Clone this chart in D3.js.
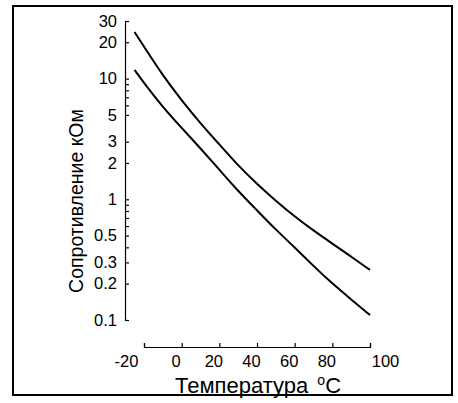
<!DOCTYPE html>
<html>
<head>
<meta charset="utf-8">
<script src="https://cdn.jsdelivr.net/npm/d3@7"></script>
<style>
  body { margin: 0; background: #fff; }
  svg { display: block; }
  .curve { fill: none; stroke: #000; stroke-width: 2; }
  .axis path, .axis line { stroke: #000; stroke-width: 1.2; }
</style>
</head>
<body>
<div class="container"></div>
<script>
var width = 458;
var height = 403;

// temperature, degC
var temps = [-25, -20, -10, 0, 10, 20, 30, 40, 50, 60, 70, 80, 90, 100];
// resistance, kOhm
var upperValues = [24.3, 18.4, 10.6, 6.6, 4.25, 2.85, 1.9, 1.34, 0.97, 0.72, 0.55, 0.43, 0.335, 0.26];
var lowerValues = [11.8, 9.2, 5.8, 3.9, 2.64, 1.76, 1.17, 0.81, 0.56, 0.40, 0.28, 0.20, 0.148, 0.11];

var xTicks = [-20, 0, 20, 40, 60, 80, 100];
var yTicks = [0.1, 0.2, 0.3, 0.5, 1, 2, 3, 5, 10, 20, 30];
var yMinorTicks = [0.4, 0.6, 0.7, 0.8, 0.9, 6, 7, 8, 9];

var fontFamily = '"Liberation Sans", Arial, Helvetica, sans-serif';

var draw = function() {
    var svg = d3.select('.container').append('svg')
        .attr('width', width)
        .attr('height', height);

    // frame
    svg.append('rect')
        .attr('x', 13).attr('y', 6)
        .attr('width', 439).attr('height', 389)
        .attr('fill', 'none')
        .attr('stroke', '#000')
        .attr('stroke-width', 2);

    var x = d3.scaleLinear().domain([-20, 100]).range([144, 370]);
    var y = d3.scaleLog().domain([0.1, 30]).range([320, 21]);

    var xAxis = d3.axisBottom(x)
        .tickValues(xTicks)
        .tickSize(-4)
        .tickPadding(8)
        .tickFormat(function(d) { return d; });

    var gx = svg.append('g')
        .attr('class', 'axis')
        .attr('transform', 'translate(0,347)')
        .call(xAxis);

    var yAxis = d3.axisLeft(y)
        .tickValues(yTicks)
        .tickSize(-4)
        .tickPadding(8)
        .tickFormat(function(d) { return d; });

    svg.append('g')
        .attr('class', 'axis')
        .attr('transform', 'translate(125,0)')
        .call(yAxis);

    var yMinor = d3.axisLeft(y)
        .tickValues(yMinorTicks)
        .tickSize(-4)
        .tickSizeOuter(0)
        .tickFormat('');

    svg.append('g')
        .attr('class', 'axis')
        .attr('transform', 'translate(125,0)')
        .call(yMinor)
        .select('.domain').remove();

    svg.selectAll('.axis text')
        .attr('font-family', fontFamily)
        .attr('font-size', 16.5)
        .attr('fill', '#000');

    // the printed labels sit a little left of their ticks, the end ones pushed out
    gx.selectAll('.tick text')
        .attr('dx', function(d) { return d === -20 ? -18 : (d === 100 ? 15 : -6); });

    var line = d3.line()
        .x(function(d) { return x(d[0]); })
        .y(function(d) { return y(d[1]); })
        .curve(d3.curveBasis);

    [upperValues, lowerValues].forEach(function(vals) {
        svg.append('path')
            .datum(d3.zip(temps, vals))
            .attr('class', 'curve')
            .attr('d', line);
    });

    // axis titles
    svg.append('text')
        .attr('transform', 'translate(83,201) rotate(-90)')
        .attr('text-anchor', 'middle')
        .attr('font-family', fontFamily)
        .attr('font-size', 19.5)
        .text('Сопротивление кОм');

    var xt = svg.append('text')
        .attr('x', 175)
        .attr('y', 393)
        .attr('font-family', fontFamily)
        .attr('font-size', 22);
    xt.append('tspan').text('Температура ');
    xt.append('tspan').attr('font-size', 14).attr('dy', -8).attr('dx', 3).text('o');
    xt.append('tspan').attr('dy', 8).text('C');
};

window.onload = draw;
</script>
</body>
</html>
